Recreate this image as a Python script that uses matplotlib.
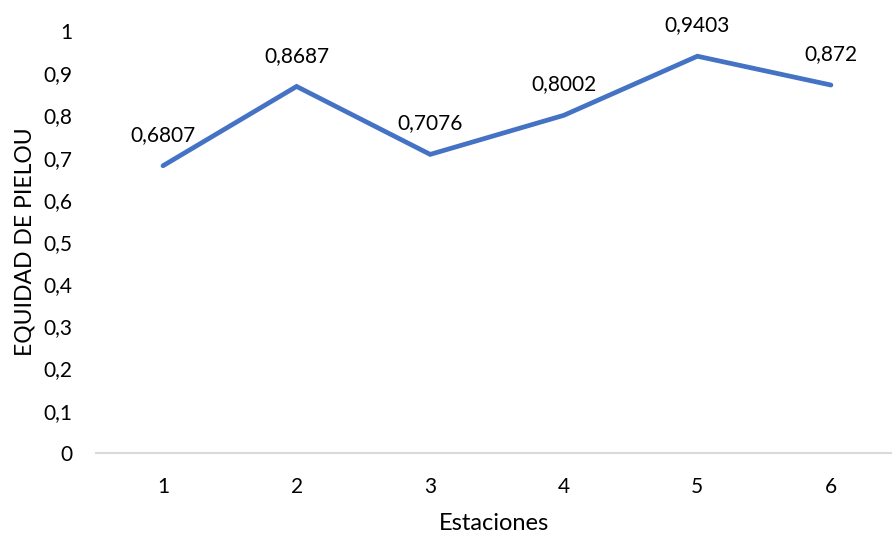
import matplotlib.pyplot as plt
import numpy as np

plt.rcParams['font.family'] = ['Lato', 'DejaVu Sans']

estaciones = [1, 2, 3, 4, 5, 6]
pielou = [0.6807, 0.8687, 0.7076, 0.8002, 0.9403, 0.872]
yticks = [0, 0.1, 0.2, 0.3, 0.4, 0.5, 0.6, 0.7, 0.8, 0.9, 1]

fig = plt.figure(figsize=(8.92, 5.35), dpi=100)
ax = fig.add_axes([96 / 892, 0.1533, 796 / 892, 0.7887])

ax.plot(estaciones, pielou, color='#4472C4', linewidth=3.4, solid_capstyle='round', solid_joinstyle='miter')

for x, y in zip(estaciones, pielou):
    ax.annotate(str(y).replace('.', ','), (x, y), xytext=(0, 15), textcoords='offset points',
                ha='center', va='bottom', fontsize=15, color='#000000')

ax.set_xlim(0.4985, 6.457)
ax.set_ylim(0, 1)
ax.set_xticks(estaciones)
ax.set_yticks(yticks)
ax.set_yticklabels([('%g' % v).replace('.', ',') for v in yticks])
ax.tick_params(length=0, labelsize=15)
ax.tick_params(axis='x', pad=17)
ax.tick_params(axis='y', pad=17)

for s in ['top', 'right', 'left']:
    ax.spines[s].set_visible(False)
ax.spines['bottom'].set_color('#D9D9D9')
ax.spines['bottom'].set_linewidth(1.5)

ax.set_xlabel('Estaciones', fontsize=17, labelpad=12)
ax.set_ylabel('EQUIDAD DE PIELOU', fontsize=16.5, labelpad=6)

fig.savefig('out.png', dpi=100)
